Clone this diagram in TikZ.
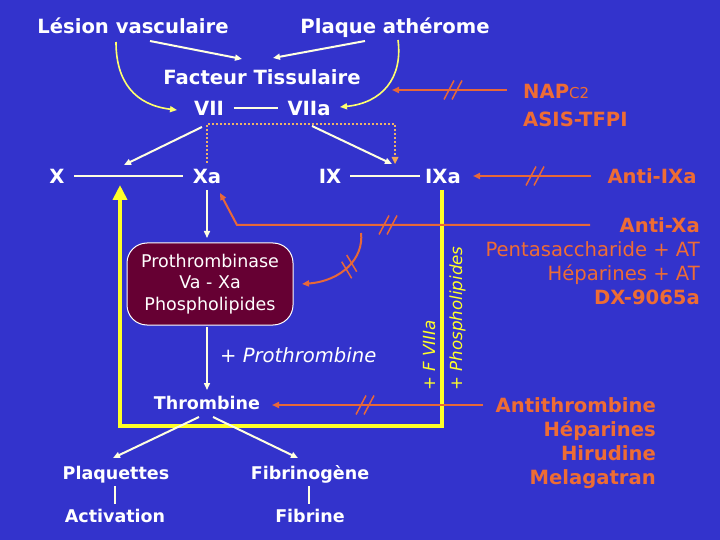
\documentclass[tikz,border=0pt]{standalone}
\usepackage{fontspec}
\setmainfont{DejaVu Sans}
\usetikzlibrary{arrows.meta,calc}
\definecolor{bgblue}{RGB}{51,51,204}
\definecolor{cream}{RGB}{255,255,225}
\definecolor{yel}{RGB}{255,255,40}
\definecolor{ylt}{RGB}{255,255,110}
\definecolor{org}{RGB}{232,104,56}
\definecolor{orgtxt}{RGB}{238,108,52}
\definecolor{peach}{RGB}{236,178,105}
\definecolor{maroon}{RGB}{102,0,51}
\tikzset{
  dslash/.pic={\draw[org,line width=1.5bp] (-9,9.5) -- (1,-9.5); \draw[org,line width=1.5bp] (-1,9.5) -- (9,-9.5);}
}
\begin{document}
\begin{tikzpicture}[x=1bp,y=-1bp,
  big/.style={inner sep=0pt,text height=14.3bp,text depth=0pt,font=\fontsize{19.6bp}{23bp}\selectfont\bfseries,text=white},
  mid/.style={inner sep=0pt,text height=12.8bp,text depth=0pt,font=\fontsize{17.5bp}{21bp}\selectfont\bfseries,text=white},
  obig/.style={big,text=orgtxt},
  onorm/.style={inner sep=0pt,text height=14.3bp,text depth=0pt,font=\fontsize{19.6bp}{23bp}\selectfont,text=orgtxt},
  wnorm/.style={inner sep=0pt,text height=14.3bp,text depth=0pt,font=\fontsize{19.6bp}{23bp}\selectfont,text=white},
  rottxt/.style={inner sep=0pt,text height=12bp,text depth=0pt,font=\fontsize{16.7bp}{20bp}\selectfont,text=yel,rotate=90,anchor=west},
  pbox/.style={draw=white,line width=1bp,fill=maroon,rounded corners=20bp,minimum width=166bp,minimum height=82bp,align=center,text=white,inner sep=0pt,font=\fontsize{17.5bp}{21.5bp}\selectfont},
  wline/.style={draw=cream,line width=2bp},
  warr/.style={wline,-{Triangle[length=7bp,width=6bp]}},
  yarr/.style={draw=ylt,line width=1.6bp,-{Triangle[length=7bp,width=6bp]}},
  oarr/.style={draw=org,line width=2bp,-{Triangle[length=7bp,width=6bp]}},
  oslash/.style={draw=org,line width=1.5bp},
  dotline/.style={draw=peach,line width=2bp,dash pattern=on 2bp off 2bp},
  ybox/.style={draw=yel,line width=4.5bp,line join=miter,-{Triangle[length=15bp,width=14bp]}}
]
\fill[bgblue] (0,0) rectangle (720,540);
\useasboundingbox (0,0) rectangle (720,540);

% ---- nodes
\node[big] (lesion) at (133,26) {Lésion vasculaire};
\node[big] (plaque) at (395,26) {Plaque athérome};
\node[big] (ft) at (262,77) {Facteur Tissulaire};
\node[big] (vii) at (209,108) {VII};
\node[big] (viia) at (309,108) {VIIa};
\node[big] (x) at (57,176) {X};
\node[big] (xa) at (207,176) {Xa};
\node[big] (ix) at (330,176) {IX};
\node[big] (ixa) at (443,176) {IXa};
\node[obig,anchor=west] (nap) at (523,91) {NAP{\mdseries\fontsize{15bp}{17bp}\selectfont C2}};
\node[obig,anchor=west] (asis) at (523,119) {ASIS-TFPI};
\node[obig] (antiixa) at (652,176) {Anti-IXa};
\node[pbox] (pb) at (210,284) {Prothrombinase\\Va - Xa\\Phospholipides};
\node[wnorm,anchor=west] (prot) at (220,355) {+ \textit{Prothrombine}};
\node[mid] (thr) at (207,403) {Thrombine};
\node[mid] (plaq) at (116,473) {Plaquettes};
\node[mid] (act) at (115,516) {Activation};
\node[mid] (fibg) at (310,473) {Fibrinogène};
\node[mid] (fib) at (310,516) {Fibrine};
\node[rottxt] (fviii) at (429,391) {+ \textit{F VIIIa}};
\node[rottxt] (phos) at (456,391) {+ \textit{Phospholipides}};
\node[obig,anchor=east] (antixa) at (700,225) {Anti-Xa};
\node[onorm,anchor=east] (penta) at (700,249) {Pentasaccharide + AT};
\node[onorm,anchor=east] (hepat) at (700,273) {Héparines + AT};
\node[obig,anchor=east] (dx) at (700,297) {DX-9065a};
\node[obig,anchor=east] (antit) at (656,405) {Antithrombine};
\node[obig,anchor=east] (hep) at (656,429) {Héparines};
\node[obig,anchor=east] (hir) at (656,453) {Hirudine};
\node[obig,anchor=east] (mel) at (656,477) {Melagatran};

% ---- coordinates
\coordinate (l1) at (150,41);  \coordinate (l2) at (242,59);
\coordinate (p1) at (365,41);  \coordinate (p2) at (273,58);
\coordinate (ly1) at (116,42); \coordinate (ly2) at (177,110);
\coordinate (py1) at (398,40); \coordinate (py2) at (340,107);
\coordinate (napend) at (392,90);
\coordinate (xx) at (124,165);
\coordinate (d0) at (207,124); \coordinate (d1) at (207,163); \coordinate (d2) at (395,124); \coordinate (d3) at (395,162);
\coordinate (vx1) at (202,127); \coordinate (va1) at (312,126); \coordinate (va2) at (392,164);
\coordinate (ixaend) at (473,176);
\coordinate (yb1) at (442,190); \coordinate (yb2) at (442,426); \coordinate (yb3) at (120,426); \coordinate (yb4) at (120,185);
\coordinate (o1) at (590,225); \coordinate (o2) at (237,225); \coordinate (o3) at (220,193);
\coordinate (c1) at (361,233); \coordinate (c2) at (302,284);
\coordinate (t1) at (483,405); \coordinate (t2) at (272,405);
\coordinate (th1) at (199,417); \coordinate (th2) at (213,417);
\coordinate (pq) at (113,458); \coordinate (fg) at (298,458);

% ---- top connectors
\draw[warr] (l1) -- (l2);
\draw[warr] (p1) -- (p2);
\draw[yarr] (ly1) .. controls (116,82) and (135,105) .. (ly2);
\draw[yarr] (py1) .. controls (403,78) and (382,103) .. (py2);
\draw[draw=cream,line width=1.5bp,shorten <=9.5bp,shorten >=9bp] (vii.east) -- (viia.west);
\draw[oarr] (nap.west) ++(-16,-1) -- (napend);
\pic at (453,90) {dslash};

% ---- dotted
\draw[dotline] (d1) -- (d0) -- (d2) -- (d3);
\fill[peach!80!orange] (d3) ++(0,2) -- ++(-3.5,-7) -- ++(7,0) -- cycle;

\draw[warr] (vx1) -- (xx);
\draw[warr] (va1) -- (va2);
\draw[wline,shorten <=9.5bp,shorten >=10bp] (x.east) -- (xa.west);
\draw[wline,shorten <=9bp,shorten >=5bp] (ix.east) -- (ixa.west);
\draw[oarr] (antiixa.west) ++(-16,0) -- (ixaend);
\pic at (535,176) {dslash};

% ---- yellow box
\draw[ybox] (yb1) -- (yb2) -- (yb3) -- (yb4);

% ---- middle
\draw[warr,line width=1.5bp] (xa.south) ++(0,7) -- (207,238);
\draw[warr,line width=1.5bp] (207,327) -- (207,390);
\draw[oarr] (o1) -- (o2) -- (o3);
\pic at (388,225) {dslash};
\draw[oarr] (c1) .. controls (364,258) and (342,281) .. (c2);
\draw[oslash] (341.7,261.7) -- (351.7,278.3);
\draw[oslash] (346.7,255) -- (356.7,271.7);
\draw[oarr] (t1) -- (t2);
\pic at (365,405) {dslash};

% ---- bottom
\draw[warr] (th1) -- (pq);
\draw[warr] (th2) -- (fg);
\draw[draw=cream,line width=1.5bp] (115,486) -- (115,504);
\draw[draw=cream,line width=1.5bp] (309,486) -- (309,504);
\end{tikzpicture}
\end{document}
